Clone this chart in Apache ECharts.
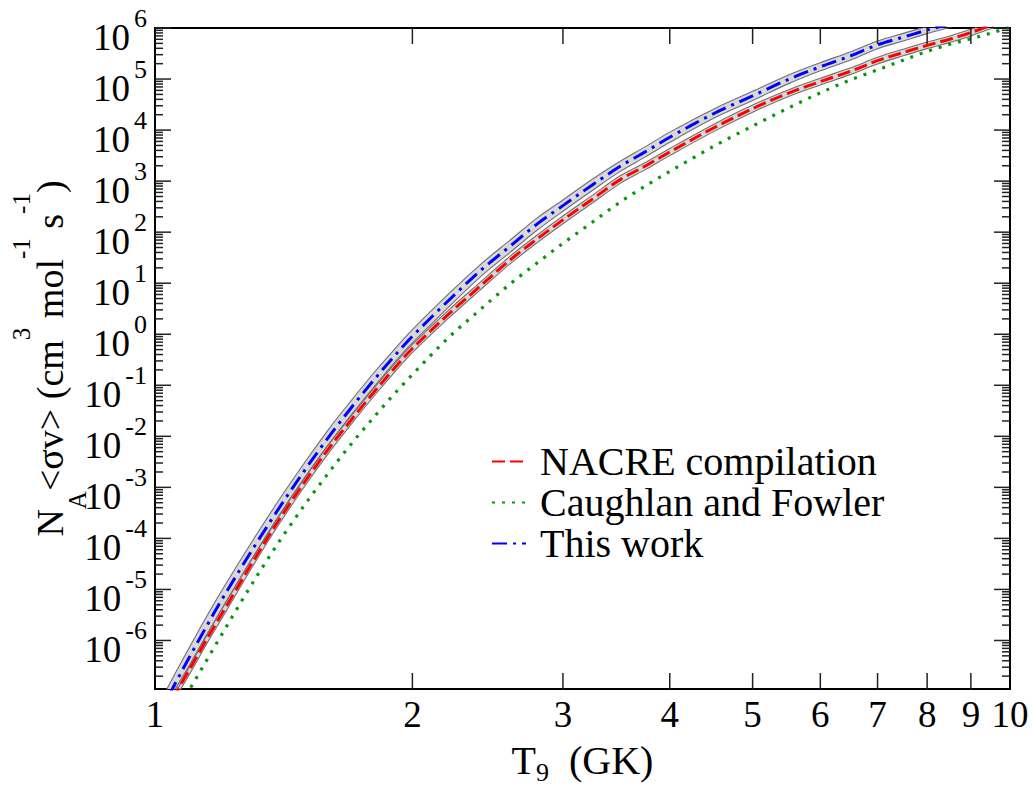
<!DOCTYPE html>
<html><head><meta charset="utf-8">
<script src="https://cdn.jsdelivr.net/npm/echarts@6/dist/echarts.min.js"></script>
<style>html,body{margin:0;padding:0;background:#fff}#c{width:1036px;height:790px}</style>
</head><body><div id="c"></div>
<script>
// ---- data ----
const temps = [1.0,1.05,1.1,1.15,1.2,1.3,1.4,1.5,1.6,1.7,1.8,1.9,2.0,2.2,2.4,2.6,2.8,3.0,3.25,3.5,3.75,4.0,4.5,5.0,5.5,6.0,6.5,7.0,7.5,8.0,8.5,9.0,9.5,10];
const thisWork = [2.51e-8,1.20e-7,5.13e-7,1.95e-6,6.76e-6,6.03e-5,4.17e-4,2.29e-3,1.02e-2,3.80e-2,0.123,0.355,0.912,4.42,17.4,52.5,145,331,851,1950,3800,7240,20900,46800,97700,174000,282000,468000,661000,912000,1.20e6,1.55e6,1.95e6,2.40e6];
const thisWorkLow = [1.58e-8,7.59e-8,3.31e-7,1.26e-6,4.47e-6,4.07e-5,2.88e-4,1.62e-3,7.24e-3,2.75e-2,8.91e-2,0.263,0.676,3.27,13.2,39.8,110,257,661,1550,3020,5750,17000,38000,80400,145000,234000,394000,556000,776000,1.02e6,1.32e6,1.66e6,2.04e6];
const thisWorkHigh = [3.98e-8,1.91e-7,7.94e-7,3.02e-6,1.02e-5,8.91e-5,6.03e-4,3.24e-3,1.45e-2,5.25e-2,0.170,0.479,1.23,5.96,22.9,69.2,191,427,1100,2450,4790,9120,25700,57500,119000,209000,339000,556000,785000,1.07e6,1.41e6,1.82e6,2.29e6,2.82e6];
const nacre = [1.70e-8,7.59e-8,2.88e-7,1.07e-6,3.55e-6,3.39e-5,2.45e-4,1.35e-3,6.03e-3,2.19e-2,7.08e-2,0.204,0.525,2.40,8.71,28.2,74.1,174,447,1070,2000,3720,11000,26300,52500,89100,141000,229000,331000,457000,603000,813000,1.12e6,1.38e6];
const nacreLow = [1.38e-8,6.17e-8,2.34e-7,8.71e-7,2.88e-6,2.79e-5,2.02e-4,1.11e-3,4.95e-3,1.82e-2,5.89e-2,0.170,0.437,2.00,7.33,23.7,62.4,146,376,902,1700,3160,9330,22400,45200,76700,122000,197000,285000,394000,519000,700000,966000,1.19e6];
const nacreHigh = [2.09e-8,9.33e-8,3.55e-7,1.32e-6,4.37e-6,4.12e-5,2.99e-4,1.64e-3,7.33e-3,2.63e-2,8.51e-2,0.245,0.631,2.88,10.4,33.5,88.1,207,531,1270,2340,4370,12900,30900,61000,104000,164000,266000,385000,531000,700000,944000,1.30e6,1.60e6];
const caughlanFowler = [7.94e-9,3.24e-8,1.17e-7,4.17e-7,1.41e-6,1.32e-5,9.12e-5,4.79e-4,2.04e-3,7.41e-3,2.29e-2,6.46e-2,0.162,0.832,3.02,9.55,25.1,60.3,158,389,813,1550,4790,12000,26900,53700,95500,151000,234000,347000,479000,617000,794000,1.05e6];
const seriesNames = ['NACRE compilation','Caughlan and Fowler','This work'];
const xTickValues = [1,2,3,4,5,6,7,8,9,10];
const xTickLabels = ['1','2','3','4','5','6','7','8','9','10'];
const yDecadeExponents = [-6,-5,-4,-3,-2,-1,0,1,2,3,4,5,6];
const yTickLabels = ['-6','-5','-4','-3','-2','-1','0','1','2','3','4','5','6'];
const yMin = 1.12e-7, yMax = 1e6;

const FONT = 'Liberation Serif';
const SMOOTH = 0.33;
const F = s => s + 'px "' + FONT + '"';
const pairs = arr => temps.map((t, i) => [t, arr[i]]);
const measureCtx = document.createElement('canvas').getContext('2d');
function textWidth(text, font) { measureCtx.font = font; return measureCtx.measureText(text).width; }

// pixel-space bezier smoothing (same scheme as ECharts' line smoothing) -> dense polyline
function smoothPts(p) {
  const out = [p[0]];
  const n = p.length;
  const cps = p.map((pt, i) => {
    if (i === 0 || i === n - 1) return [pt, pt];
    const prev = p[i - 1], next = p[i + 1];
    const vx = next[0] - prev[0], vy = next[1] - prev[1];
    const d0 = Math.hypot(pt[0] - prev[0], pt[1] - prev[1]);
    const d1 = Math.hypot(next[0] - pt[0], next[1] - pt[1]);
    const s = d0 + d1 || 1;
    return [[pt[0] - vx * SMOOTH * d0 / s, pt[1] - vy * SMOOTH * d0 / s],
            [pt[0] + vx * SMOOTH * d1 / s, pt[1] + vy * SMOOTH * d1 / s]];
  });
  for (let i = 0; i < n - 1; i++) {
    const a = p[i], b = p[i + 1], c1 = cps[i][1], c2 = cps[i + 1][0];
    for (let k = 1; k <= 12; k++) {
      const t = k / 12, u = 1 - t;
      out.push([u*u*u*a[0] + 3*u*u*t*c1[0] + 3*u*t*t*c2[0] + t*t*t*b[0],
                u*u*u*a[1] + 3*u*u*t*c1[1] + 3*u*t*t*c2[1] + t*t*t*b[1]]);
    }
  }
  return out;
}

function clipPoly(pts, x0, y0, x1, y1) {
  const edges = [
    [p => p[0] >= x0, (a, b) => { const t = (x0 - a[0]) / (b[0] - a[0]); return [x0, a[1] + t * (b[1] - a[1])]; }],
    [p => p[0] <= x1, (a, b) => { const t = (x1 - a[0]) / (b[0] - a[0]); return [x1, a[1] + t * (b[1] - a[1])]; }],
    [p => p[1] >= y0, (a, b) => { const t = (y0 - a[1]) / (b[1] - a[1]); return [a[0] + t * (b[0] - a[0]), y0]; }],
    [p => p[1] <= y1, (a, b) => { const t = (y1 - a[1]) / (b[1] - a[1]); return [a[0] + t * (b[0] - a[0]), y1]; }]
  ];
  let out = pts;
  for (const [inside, inter] of edges) {
    const inp = out; out = [];
    if (!inp.length) break;
    for (let i = 0; i < inp.length; i++) {
      const cur = inp[i], prev = inp[(i + inp.length - 1) % inp.length];
      const ci = inside(cur), pi = inside(prev);
      if (ci) { if (!pi) out.push(inter(prev, cur)); out.push(cur); }
      else if (pi) out.push(inter(prev, cur));
    }
  }
  return out;
}

function bandRender(low, high) {
  return function (params, api) {
    const cs = params.coordSys;
    const up = smoothPts(temps.map((t, i) => api.coord([t, high[i]])));
    const lo = smoothPts(temps.map((t, i) => api.coord([t, low[i]])));
    let poly = up.concat(lo.reverse());
    poly = clipPoly(poly, cs.x, cs.y, cs.x + cs.width, cs.y + cs.height);
    return { type: 'polygon', silent: true, shape: { points: poly }, style: { fill: '#d8d8d8', stroke: null } };
  };
}

function ticksRender(params, api) {
  const cs = params.coordSys;
  const L = cs.x, R = cs.x + cs.width, T = cs.y, B = cs.y + cs.height;
  const ch = [];
  const seg = (x1, y1, x2, y2) => ch.push({ type: 'line', silent: true, shape: { x1, y1, x2, y2 }, style: { stroke: '#222', lineWidth: 1.5 } });
  const txt = (x, y, text, size, align, vAlign) => ch.push({ type: 'text', silent: true, x, y,
    style: { text, font: F(size), fill: '#000', align, verticalAlign: vAlign } });
  yDecadeExponents.forEach((e, i) => {
    const y = api.coord([1, Math.pow(10, e)])[1];
    seg(L, y, L + 16, y); seg(R, y, R - 16, y);
    const expW = textWidth(yTickLabels[i], F(26));
    txt(L - 8, y - 10, yTickLabels[i], 26, 'right', 'middle');
    txt(L - 8 - expW - 4, y + 9, '10', 37, 'right', 'middle');
  });
  for (let e = -8; e <= 6; e++) {
    for (let m = 2; m <= 9; m++) {
      const v = m * Math.pow(10, e);
      if (v <= yMin || v >= yMax) continue;
      const y = api.coord([1, v])[1];
      seg(L, y, L + 8, y); seg(R, y, R - 8, y);
    }
  }
  xTickValues.forEach((v, i) => {
    const x = api.coord([v, 1])[0];
    if (v > 1 && v < 10) { seg(x, B, x, B - 16); seg(x, T, x, T + 16); }
    txt(x, B + 7, xTickLabels[i], 37, 'center', 'top');
  });
  return { type: 'group', children: ch };
}

const chart = echarts.init(document.getElementById('c'), null, { renderer: 'svg' });
chart.setOption({
  animation: false,
  backgroundColor: '#fff',
  grid: { left: 155, right: 26, top: 28, bottom: 87, show: true, borderColor: '#000', borderWidth: 2, backgroundColor: 'transparent' },
  legend: {
    data: seriesNames, orient: 'vertical', left: 491, top: 441, itemWidth: 34, itemHeight: 14, itemGap: 0, padding: 0,
    selectedMode: false, itemStyle: { opacity: 0 },
    textStyle: { fontFamily: FONT, fontSize: 40, color: '#000', lineHeight: 41, padding: [0, 0, 0, 9] }
  },
  xAxis: {
    type: 'log', logBase: 10, min: 1, max: 10,
    axisLine: { show: false }, axisTick: { show: false }, axisLabel: { show: false }, splitLine: { show: false },
    name: '{m|T}{sub|9}{m|  (GK)}', nameLocation: 'middle', nameGap: 46,
    nameTextStyle: { rich: {
      m: { fontFamily: FONT, fontSize: 40, color: '#000', lineHeight: 50, verticalAlign: 'middle' },
      sub: { fontFamily: FONT, fontSize: 26, color: '#000', height: 26, verticalAlign: 'bottom' }
    } }
  },
  yAxis: {
    type: 'log', logBase: 10, min: yMin, max: yMax,
    axisLine: { show: false }, axisTick: { show: false }, splitLine: { show: false }, axisLabel: { show: false },
    name: '{m|N}{sub|A}{m|<σv> (cm}{sup|3}{m| mol}{sup|-1}{m| s}{sup|-1}{m|)}',
    nameLocation: 'middle', nameRotate: 90, nameGap: 55,
    nameTextStyle: { rich: {
      m: { fontFamily: FONT, fontSize: 38, color: '#000', lineHeight: 100, verticalAlign: 'middle' },
      sup: { fontFamily: FONT, fontSize: 25, color: '#000', height: 42, verticalAlign: 'top' },
      sub: { fontFamily: FONT, fontSize: 25, color: '#000', height: 46, verticalAlign: 'bottom' }
    } }
  },
  series: [
    { type: 'custom', name: 'bandThisWork', renderItem: bandRender(thisWorkLow, thisWorkHigh), data: [[2, 1]], z: 1, silent: true },
    { type: 'custom', name: 'bandNacre', renderItem: bandRender(nacreLow, nacreHigh), data: [[2, 1]], z: 1, silent: true },
    ...[thisWorkLow, thisWorkHigh, nacreLow, nacreHigh].map((arr, k) => ({
      type: 'line', name: 'edge' + k, data: pairs(arr), symbol: 'none', silent: true, z: 2, smooth: SMOOTH,
      lineStyle: { color: '#707070', width: 1.1 }, itemStyle: { color: '#707070' }
    })),
    { type: 'line', name: seriesNames[0], data: pairs(nacre), symbol: 'none', z: 3, color: '#ff0000', smooth: SMOOTH,
      lineStyle: { color: '#ff0000', width: 3, type: [13, 5] } },
    { type: 'line', name: seriesNames[1], data: pairs(caughlanFowler), symbol: 'none', z: 3, color: '#0a960a', smooth: SMOOTH,
      lineStyle: { color: '#0a960a', width: 3.2, type: [3, 7] } },
    { type: 'line', name: seriesNames[2], data: pairs(thisWork), symbol: 'none', z: 3, color: '#0000ff', smooth: SMOOTH,
      lineStyle: { color: '#0000ff', width: 3, type: [15, 6, 3, 6] } },
    { type: 'custom', name: 'ticks', renderItem: ticksRender, data: [[2, 1]], z: 5, silent: true }
  ]
});
</script>
</body></html>
